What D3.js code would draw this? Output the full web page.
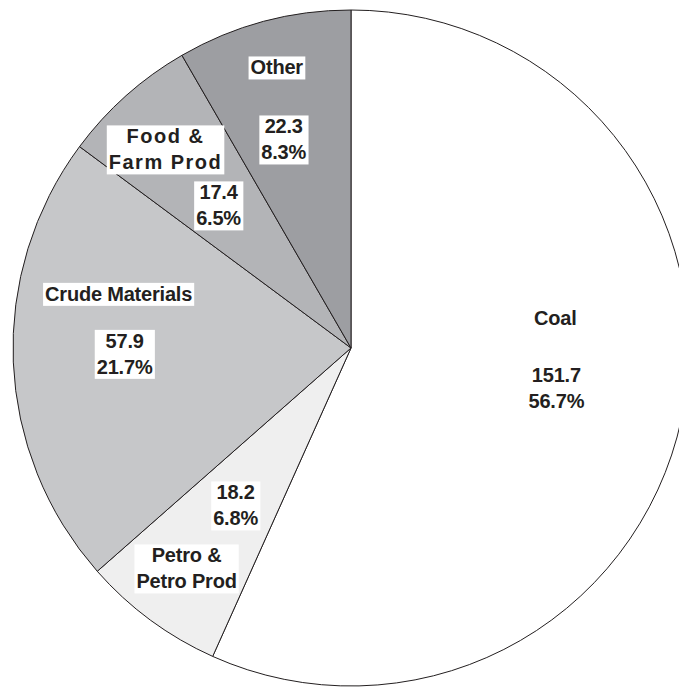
<!DOCTYPE html>
<html>
<head>
<meta charset="utf-8">
<script src="https://cdn.jsdelivr.net/npm/d3@7"></script>
<style>
  body { margin: 0; background: #fff; }
  svg text { font-family: "Liberation Sans", Arial, sans-serif; font-weight: bold; fill: #231f20; }
</style>
</head>
<body>
<svg id="chart" width="679" height="687"></svg>
<script>
// slice names, values (share of total), fills
let names = ["Coal", "Petro & Petro Prod", "Crude Materials", "Food & Farm Prod", "Other"]
let values = [151.7, 18.2, 57.9, 17.4, 22.3]
let percents = ["56.7%", "6.8%", "21.7%", "6.5%", "8.3%"]
let nameLines = [["Coal"], ["Petro &", "Petro Prod"], ["Crude Materials"], ["Food &", "Farm Prod"], ["Other"]]
let fills = ["#ffffff", "#efefef", "#c6c7c9", "#b3b4b7", "#9d9ea2"]

let data = names.map((n, i) => ({ name: n, value: values[i], pct: percents[i], lines: nameLines[i], fill: fills[i] }))

let cx = 351, cy = 348, radius = 338
let lineH = 26

// nudges from the label centroid (name group, value group)
let nudges = {
    "Coal": { name: [-27, -80], val: [-26, -10] },
    "Petro & Petro Prod": { name: [-24, 30], val: [25, -33] },
    "Crude Materials": { name: [4, -64], val: [10, -4] },
    "Food & Farm Prod": { name: [-28, -22], val: [25, 34] },
    "Other": { name: [-13, -52], val: [-6, 20] }
}

let svg = d3.select("#chart")
let g = svg.append("g").attr("transform", `translate(${cx},${cy})`)

let pie = d3.pie().sort(null).value(d => d.value)
let arc = d3.arc().innerRadius(0).outerRadius(radius)
let labelArc = d3.arc().innerRadius(radius * 0.7).outerRadius(radius * 0.7)

let arcs = pie(data)

g.selectAll("path")
    .data(arcs)
    .enter()
    .append("path")
    .attr("d", arc)
    .attr("fill", d => d.data.fill)
    .attr("stroke", "#231f20")
    .attr("stroke-width", 1)
    .attr("stroke-linejoin", "round")

function addBlock(parent, lines, x, y, spacing) {
    let blk = parent.append("g")
    let top = y - (lines.length - 1) * lineH / 2
    let txt = blk.append("text")
        .attr("text-anchor", "middle")
        .style("font-size", "20px")
        .style("letter-spacing", spacing + "px")
    lines.forEach((l, i) => {
        txt.append("tspan")
            .attr("x", x)
            .attr("y", top + i * lineH)
            .attr("dy", "0.35em")
            .text(l)
    })
    let bb = txt.node().getBBox()
    blk.insert("rect", "text")
        .attr("x", bb.x - 2)
        .attr("y", bb.y)
        .attr("width", bb.width + 4)
        .attr("height", bb.height + 1)
        .attr("fill", "#fff")
}

let labels = g.append("g")
arcs.forEach(d => {
    let c = labelArc.centroid(d)
    let nd = nudges[d.data.name]
    let sp = d.data.name == "Food & Farm Prod" ? 1.5 : -0.2
    addBlock(labels, d.data.lines, c[0] + nd.name[0], c[1] + nd.name[1], sp)
    addBlock(labels, [d3.format(".1f")(d.data.value), d.data.pct], c[0] + nd.val[0], c[1] + nd.val[1], -0.2)
})
</script>
</body>
</html>
